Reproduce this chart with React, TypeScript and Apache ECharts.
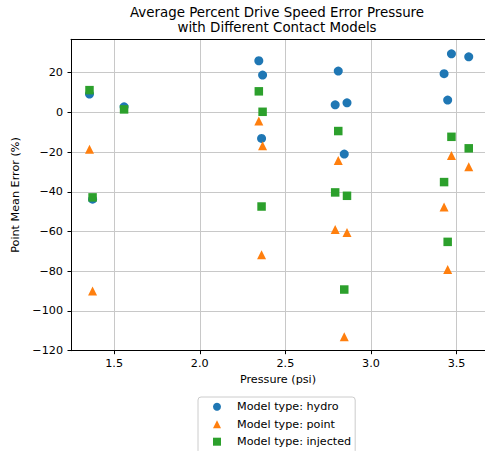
import React, { useEffect, useRef } from "react";
import * as echarts from "echarts";

const pressure = [1.356, 1.374, 1.558, 2.345, 2.367, 2.361, 2.809, 2.791, 2.86, 2.844, 3.47, 3.571, 3.427, 3.448];
const hydro = [9.2, -43.7, 2.8, 26.0, 18.8, -13.1, 20.8, 3.8, 4.8, -21.0, 29.5, 28.0, 19.5, 6.2];
const point = [-18.6, -90.0, null, -4.4, -16.8, -71.7, -24.2, -59.0, -60.5, -113.0, -21.7, -27.4, -47.6, -79.1];
const injected = [11.2, -42.8, 1.5, 10.6, 0.3, -47.4, -9.4, -40.3, -42.0, -89.2, -12.3, -18.1, -35.1, -65.2];
const seriesNames = ["Model type: hydro", "Model type: point", "Model type: injected"];
const seriesSymbols = ["circle", "triangle", "rect"];
const xTicks = [1.5, 2.0, 2.5, 3.0, 3.5];

const FONT = "DejaVu Sans";

function pairs(ys: (number | null)[]) {
  return pressure
    .map((x, i) => [x, ys[i]])
    .filter((p) => p[1] !== null && p[1] !== undefined);
}

export default function App() {
  const ref = useRef<HTMLDivElement>(null);
  useEffect(() => {
    const chart = echarts.init(ref.current!, null, { renderer: "svg" });
    const xMin = 1.248;
    const xMax = 3.666;
    chart.setOption({
      animation: false,
      backgroundColor: "#ffffff",
      title: {
        text: "Average Percent Drive Speed Error Pressure\nwith Different Contact Models",
        left: 277,
        top: 4.5,
        textAlign: "center",
        padding: 0,
        textStyle: {
          fontFamily: FONT,
          fontSize: 13.4,
          fontWeight: "normal",
          color: "#000",
          lineHeight: 15.5,
        },
      },
      grid: { left: 71, top: 39.3, width: 415, height: 311.4 },
      xAxis: [
        {
          type: "value",
          min: xMin,
          max: xMax,
          name: "Pressure (psi)",
          nameLocation: "middle",
          nameGap: 23.5,
          nameTextStyle: { fontFamily: FONT, fontSize: 11.2, color: "#000" },
          axisLine: { show: true, onZero: false, lineStyle: { color: "#000", width: 1 } },
          axisTick: { show: true, length: 3.5, customValues: xTicks, lineStyle: { color: "#000" } },
          axisLabel: {
            customValues: xTicks,
            formatter: (v: number) => v.toFixed(1),
            fontFamily: FONT,
            fontSize: 11.2,
            color: "#000",
            margin: 7,
          },
          splitLine: { show: true, lineStyle: { color: "#c8c8c8", width: 1 } },
        },
        {
          type: "value",
          position: "top",
          min: xMin,
          max: xMax,
          axisLine: { show: true, onZero: false, lineStyle: { color: "#000", width: 1 } },
          axisTick: { show: false },
          axisLabel: { show: false },
          splitLine: { show: false },
        },
      ],
      yAxis: {
        type: "value",
        min: -120,
        max: 36.8,
        interval: 20,
        name: "Point Mean Error (%)",
        nameLocation: "middle",
        nameGap: 42,
        nameTextStyle: { fontFamily: FONT, fontSize: 11.2, color: "#000" },
        axisLine: { show: true, onZero: false, lineStyle: { color: "#000", width: 1 } },
        axisTick: { show: true, length: 3.5, lineStyle: { color: "#000" } },
        axisLabel: {
          formatter: (v: number) => (v < 0 ? "\u2212" + Math.abs(v) : String(v)),
          fontFamily: FONT,
          fontSize: 11.2,
          color: "#000",
          margin: 8,
          showMaxLabel: false,
        },
        splitLine: { show: true, lineStyle: { color: "#c8c8c8", width: 1 } },
      },
      legend: {
        orient: "vertical",
        left: 198,
        top: 397,
        height: 90,
        padding: [3.7, 4, 6, 15],
        itemWidth: 8,
        itemHeight: 8,
        itemGap: 5.5,
        borderColor: "#cccccc",
        borderWidth: 1,
        borderRadius: 3,
        backgroundColor: "rgba(255,255,255,0.8)",
        textStyle: {
          fontFamily: FONT,
          fontSize: 11.2,
          color: "#000",
          lineHeight: 12,
          padding: [0, 0, 0, 11],
        },
        data: seriesNames.map((n, i) => ({ name: n, icon: seriesSymbols[i] })),
      },
      series: [
        {
          name: seriesNames[0],
          type: "scatter",
          symbol: seriesSymbols[0],
          symbolSize: 9,
          itemStyle: { color: "#1f77b4", opacity: 1 },
          data: pairs(hydro),
        },
        {
          name: seriesNames[1],
          type: "scatter",
          symbol: seriesSymbols[1],
          symbolSize: 9,
          itemStyle: { color: "#ff7f0e", opacity: 1 },
          data: pairs(point),
        },
        {
          name: seriesNames[2],
          type: "scatter",
          symbol: seriesSymbols[2],
          symbolSize: 8.5,
          itemStyle: { color: "#2ca02c", opacity: 1 },
          data: pairs(injected),
        },
      ],
    });
    return () => chart.dispose();
  }, []);
  return (
    <div
      ref={ref}
      style={{ position: "fixed", left: 0, top: 0, width: 485, height: 451 }}
    />
  );
}
